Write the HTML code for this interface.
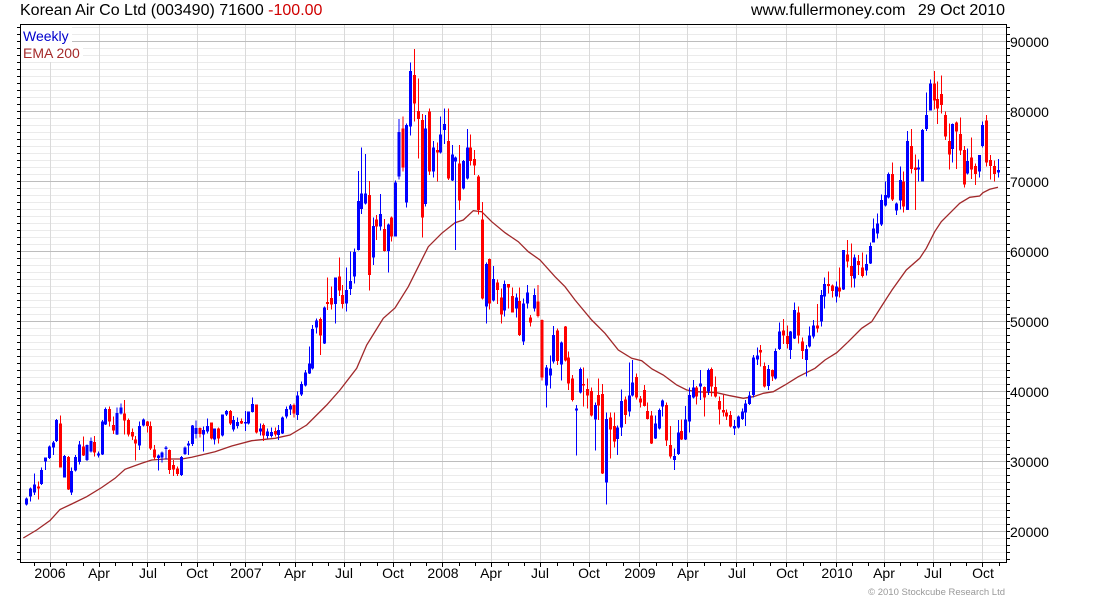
<!DOCTYPE html>
<html><head><meta charset="utf-8"><style>
html,body{margin:0;padding:0;background:#fff;}
svg{display:block;}
text{font-family:"Liberation Sans",Arial,sans-serif;}
</style></head><body>
<svg width="1100" height="600" viewBox="0 0 1100 600" xmlns="http://www.w3.org/2000/svg">
<rect x="0" y="0" width="1100" height="600" fill="#fff"/>
<!-- minor horizontal grid -->
<path shape-rendering="crispEdges" stroke="#ebebeb" stroke-width="1" fill="none" d="M20 27.5H1006M20 34.5H1006M20 48.5H1006M20 55.5H1006M20 62.5H1006M20 69.5H1006M20 76.5H1006M20 83.5H1006M20 90.5H1006M20 97.5H1006M20 104.5H1006M20 118.5H1006M20 125.5H1006M20 132.5H1006M20 139.5H1006M20 146.5H1006M20 153.5H1006M20 160.5H1006M20 167.5H1006M20 174.5H1006M20 188.5H1006M20 195.5H1006M20 202.5H1006M20 209.5H1006M20 216.5H1006M20 223.5H1006M20 230.5H1006M20 237.5H1006M20 244.5H1006M20 258.5H1006M20 265.5H1006M20 272.5H1006M20 279.5H1006M20 286.5H1006M20 293.5H1006M20 300.5H1006M20 307.5H1006M20 314.5H1006M20 328.5H1006M20 335.5H1006M20 342.5H1006M20 349.5H1006M20 356.5H1006M20 363.5H1006M20 370.5H1006M20 377.5H1006M20 384.5H1006M20 398.5H1006M20 405.5H1006M20 412.5H1006M20 419.5H1006M20 426.5H1006M20 433.5H1006M20 440.5H1006M20 447.5H1006M20 454.5H1006M20 468.5H1006M20 475.5H1006M20 482.5H1006M20 489.5H1006M20 496.5H1006M20 503.5H1006M20 510.5H1006M20 517.5H1006M20 524.5H1006M20 538.5H1006M20 545.5H1006M20 552.5H1006M20 559.5H1006"/>
<!-- vertical grid -->
<path shape-rendering="crispEdges" stroke="#dadada" stroke-width="1" fill="none" d="M50.5 24V562M99.5 24V562M147.5 24V562M197.5 24V562M245.5 24V562M295.5 24V562M344.5 24V562M393.5 24V562M442.5 24V562M491.5 24V562M540.5 24V562M589.5 24V562M639.5 24V562M687.5 24V562M736.5 24V562M786.5 24V562M836.5 24V562M884.5 24V562M933.5 24V562M982.5 24V562"/>
<!-- major horizontal grid -->
<path shape-rendering="crispEdges" stroke="#bdbdbd" stroke-width="1" fill="none" d="M20 41.5H1006M20 111.5H1006M20 181.5H1006M20 251.5H1006M20 321.5H1006M20 391.5H1006M20 461.5H1006M20 531.5H1006"/>
<!-- legend background -->
<rect x="21" y="25" width="51" height="20" fill="#fff"/>
<rect x="21" y="45" width="62" height="17" fill="#fff"/>
<text x="23" y="41" font-size="14" fill="#0000cc">Weekly</text>
<text x="23" y="58" font-size="14" fill="#a52a2a">EMA 200</text>
<!-- EMA -->
<polyline fill="none" stroke="#a0282a" stroke-width="1.3" points="23.3,538 36.7,530 50,520.5 60,509.5 71.7,504 86.7,496.7 101.7,487.5 115,478.3 125,469.3 141.7,463.3 151.7,460 165,459 181.7,459 191.7,457.3 215,451.7 231.7,446 251.7,440.7 275,438.3 290,435 306.7,425 326.7,405 340,390 356.7,368.3 366.7,345 383.3,318.3 395,308 408.3,286.7 418.3,266.7 428.3,246.7 441.7,233.3 455,222.7 463.3,220 473.3,210.7 481.7,211.7 491.7,221.7 505,232.7 518.3,241.7 528.3,251.7 540,260 555,276.7 565,286.7 575,300 591.7,320 605,333.3 618.3,350 631.7,358.3 641.7,360.7 652,369 663.3,375 676.7,385 686.7,390 696.7,391.7 716.7,392.7 730,395.7 743.3,398.3 753.3,396.7 763.3,393.3 773.3,391.7 785,385 798.3,376.7 815,368.3 825,360 836.7,352.7 848.3,341.7 861.7,328.3 871.7,321.7 881.7,306 892,290 906.3,270 919.7,258.3 926.3,248.3 934.7,231.7 941.3,221.7 951.3,211.7 959.7,203.3 969.7,197.3 979.7,196 983,192.7 989.7,189.3 998,187.3"/>
<!-- candles -->
<g shape-rendering="crispEdges" fill="none">
<g transform="translate(15 380) scale(0.333333)">
<path stroke="#0000ff" stroke-width="3" d="M35 352V377M46 322V365M58 280V345M79 263V315M91 232V270M103 197V237M115 183V225M124 117V186M148 225V293M169 263V345M181 225V275M193 183V254M216 193V243M228 172V217M250 215V232M262 120V225M271 83V135M306 83V165M318 70V103M373 125V210M385 115V140M430 223V272M441 215V248M453 198V238M499 228V288M510 200V225M520 183V225M532 135V198M543 122V175M566 140V215M578 115V160M599 145V193M623 103V170M634 90V108M656 108V155M668 113V145M691 93V153M700 95V133M712 52V98M736 130V167M757 145V175"/>
<path stroke="#0000ff" stroke-width="9" d="M35 355V373M46 326V350M58 313V338M79 270V312M91 232V245M103 200V234M115 187V203M124 120V183M148 228V293M169 273V338M181 231V272M193 193V246M216 195V240M228 183V214M250 220V226M262 124V224M271 87V133M306 99V163M318 83V100M373 138V197M385 118V136M430 226V234M441 218V232M453 203V207M499 231V285M510 202V222M520 190V197M532 137V192M543 144V162M566 150V164M578 138V155M599 145V178M623 104V167M634 93V104M656 120V148M668 126V138M691 126V131M700 95V130M712 72V96M736 145V155M757 155V168"/>
<path stroke="#ff0000" stroke-width="3" d="M70 305V358M136 107V263M160 228V330M205 170V228M239 168V230M283 80V140M295 110V162M328 60V163M340 116V170M352 145V180M362 168V242M397 123V157M406 125V210M418 195V240M464 208V282M476 240V288M488 260V288M555 143V173M589 128V178M611 143V190M646 90V135M679 115V132M724 73V160M746 130V183"/>
<path stroke="#ff0000" stroke-width="9" d="M70 320V326M136 131V263M160 231V328M205 200V226M239 186V218M283 87V125M295 135V152M328 100V122M340 120V163M352 156V170M362 178V190M397 124V138M406 138V205M418 208V232M464 210V270M476 255V268M488 266V282M555 144V162M589 128V175M611 145V175M646 93V130M679 123V130M724 73V158M746 135V167"/>
</g>
<g transform="translate(270 140) scale(0.333333)">
<path stroke="#0000ff" stroke-width="3" d="M4 862V892M26 855V900M37 830V882M49 800V835M61 792V825M82 755V840M94 725V768M106 690V740M118 620V702M127 555V688M139 535V580M163 500V612M196 412V550M229 383V515M241 335V465M253 325V430M265 93V332M274 23V222M286 42V193M310 232V375M331 162V272M355 250V398M376 122V290"/>
<path stroke="#0000ff" stroke-width="9" d="M4 876V888M26 870V885M37 833V880M49 807V830M61 796V809M82 766V825M94 732V764M106 698V737M118 670V700M127 567V686M139 542V562M163 502V610M196 412V492M229 450V491M241 423V447M253 336V410M265 183V330M274 160V207M286 160V190M310 258V352M331 222V260M355 253V333M376 128V290"/>
<path stroke="#ff0000" stroke-width="3" d="M16 862V890M72 790V832M151 532V645M172 413V510M184 440V508M208 353V468M217 435V505M298 123V452M319 225V300M343 237V335M364 230V305"/>
<path stroke="#ff0000" stroke-width="9" d="M16 873V884M72 795V820M151 537V587M172 486V492M184 474V494M208 410V452M217 465V492M298 165V405M319 238V260M343 267V333M364 233V290"/>
</g>
<g transform="translate(395 40) scale(0.333333)">
<path stroke="#0000ff" stroke-width="3" d="M12 237V418M34 250V503M46 67V287M91 225V500M115 303V413M136 230V340M148 205V312M172 315V423M181 350V630M205 360V448M217 267V418M274 668V850M295 678V785M328 722V830M364 760V832M386 775V915"/>
<path stroke="#0000ff" stroke-width="9" d="M12 276V410M34 255V488M46 93V260M91 265V492M115 322V395M136 283V338M148 252V270M172 343V422M181 352V365M205 363V445M217 323V415M274 672V800M295 717V782M328 732V812M364 773V805M386 790V905"/>
<path stroke="#ff0000" stroke-width="3" d="M24 230V395M58 27V245M70 115V355M82 222V593M103 205V405M127 307V425M160 205V420M193 315V510M226 283V377M238 330V405M250 405V523M262 486V778M284 655V808M307 718V792M319 745V850M340 732V805M352 742V818M374 742V888"/>
<path stroke="#ff0000" stroke-width="9" d="M24 265V383M58 105V190M70 213V237M82 240V533M103 215V395M127 330V338M160 303V415M193 370V482M226 323V363M238 357V377M250 410V510M262 538V775M284 657V790M307 727V750M319 773V823M340 732V743M352 768V818M374 783V885"/>
</g>
<g transform="translate(525 260) scale(0.333333)">
<path stroke="#0000ff" stroke-width="3" d="M7 75V145M28 85V155M64 315V443M76 287V385M85 198V310M109 245V362M154 435V587M166 322V400M211 428V572M244 458V733M277 497V585M289 388V528M313 308V470M322 300V410"/>
<path stroke="#0000ff" stroke-width="9" d="M7 98V130M28 105V145M64 323V377M76 325V347M85 225V305M109 247V313M154 446V452M166 327V398M211 435V478M244 477V668M277 503V537M289 423V503M313 407V455M322 367V407"/>
<path stroke="#ff0000" stroke-width="3" d="M17 165V200M39 75V172M51 178V362M97 205V315M121 198V305M130 275V390M142 345V425M176 322V440M187 355V445M199 383V470M220 355V480M232 372V642M256 458V595M268 458V562M301 410V492M334 340V418M346 408V443M358 375V440M367 428V478"/>
<path stroke="#ff0000" stroke-width="9" d="M17 172V188M39 125V168M51 180V353M97 212V303M121 200V302M130 292V370M142 355V420M176 372V377M187 387V407M199 393V467M220 405V437M232 402V640M256 473V508M268 498V545M301 418V465M334 351V412M346 415V428M358 390V438M367 453V477"/>
</g>
<g transform="translate(650 250) scale(0.333333)">
<path stroke="#0000ff" stroke-width="3" d="M16 497V567M28 475V538M37 448V500M73 595V660M85 510V615M106 468V570M118 412V548M130 390V445M151 360V450M175 355V435M253 510V555M265 497V535M277 475V510M286 450V528M298 425V465M310 315V443M322 292V345M355 345V420M376 295V388M388 218V300"/>
<path stroke="#0000ff" stroke-width="9" d="M16 520V565M28 480V535M37 452V470M73 618V630M85 547V612M106 508V568M118 435V515M130 413V443M151 400V410M175 360V425M253 528V535M265 500V533M277 485V507M286 460V487M298 437V462M310 322V435M322 317V328M355 357V408M376 303V385M388 245V297"/>
<path stroke="#ff0000" stroke-width="3" d="M4 483V582M49 458V588M61 528V625M94 508V570M139 408V463M163 410V500M184 352V440M196 380V442M208 440V523M220 435V500M229 478V510M241 483V532M331 285V350M343 337V412M367 358V393M400 207V282"/>
<path stroke="#ff0000" stroke-width="9" d="M4 497V580M49 465V572M61 585V620M94 543V568M139 412V440M163 411V443M184 357V410M196 411V440M208 453V478M220 480V487M229 488V500M241 495V530M331 300V307M343 348V410M367 360V380M400 242V257"/>
</g>
<g transform="translate(785 160) scale(0.333333)">
<path stroke="#0000ff" stroke-width="3" d="M16 513V597M28 428V537M64 555V650M73 500V563M85 480V535M109 390V500M118 352V445M154 365V428M175 270V390M208 283V382M244 283V347M256 248V312M265 175V248M277 160V235M289 103V198M301 65V140M310 38V115"/>
<path stroke="#0000ff" stroke-width="9" d="M16 515V570M28 450V535M64 567V600M73 527V560M85 497V530M109 405V485M118 372V410M154 380V410M175 270V388M208 293V355M244 312V332M256 258V310M265 205V247M277 190V220M289 120V193M301 105V137M310 42V112"/>
<path stroke="#ff0000" stroke-width="3" d="M7 497V565M40 440V550M52 532V597M97 432V518M130 335V400M142 373V413M164 322V413M187 240V323M199 250V382M220 285V345M232 278V352M322 7V123"/>
<path stroke="#ff0000" stroke-width="9" d="M7 528V552M40 457V527M52 545V573M97 497V505M130 372V378M142 377V393M164 383V395M187 283V305M199 318V348M220 303V315M232 322V348M322 42V118"/>
</g>
<g transform="translate(893 60) scale(0.333333)">
<path stroke="#0000ff" stroke-width="3" d="M10 428V465M22 320V448M43 213V450M76 298V365M88 207V365M100 98V213M112 58V152M178 190V307M223 265V343M259 285V353M268 185V262M316 297V352"/>
<path stroke="#0000ff" stroke-width="9" d="M10 430V452M22 360V422M43 243V450M76 323V328M88 210V365M100 165V207M112 70V152M178 192V267M223 303V340M259 285V335M268 195V258M316 330V338"/>
<path stroke="#ff0000" stroke-width="3" d="M31 335V458M55 207V340M67 283V450M124 33V148M133 65V192M145 47V160M157 155V240M169 190V328M190 185V327M202 172V285M214 258V383M235 233V357M247 310V375M280 165V320M292 285V358M304 302V365"/>
<path stroke="#ff0000" stroke-width="9" d="M31 365V440M55 258V327M67 323V330M124 70V122M133 117V145M145 102V135M157 165V230M169 243V283M190 187V215M202 222V272M214 270V373M235 292V328M247 318V342M280 182V308M292 300V318M304 318V342"/>
</g>
</g>
<!-- frame -->
<rect x="20.5" y="24.5" width="986" height="538" fill="none" stroke="#000" stroke-width="1" shape-rendering="crispEdges"/>
<!-- y ticks -->
<path shape-rendering="crispEdges" stroke="#000" stroke-width="1" fill="none" d="M17 27.5h3M17 34.5h3M17 41.5h3M17 48.5h3M17 55.5h3M17 62.5h3M17 69.5h3M17 76.5h3M17 83.5h3M17 90.5h3M17 97.5h3M17 104.5h3M17 111.5h3M17 118.5h3M17 125.5h3M17 132.5h3M17 139.5h3M17 146.5h3M17 153.5h3M17 160.5h3M17 167.5h3M17 174.5h3M17 181.5h3M17 188.5h3M17 195.5h3M17 202.5h3M17 209.5h3M17 216.5h3M17 223.5h3M17 230.5h3M17 237.5h3M17 244.5h3M17 251.5h3M17 258.5h3M17 265.5h3M17 272.5h3M17 279.5h3M17 286.5h3M17 293.5h3M17 300.5h3M17 307.5h3M17 314.5h3M17 321.5h3M17 328.5h3M17 335.5h3M17 342.5h3M17 349.5h3M17 356.5h3M17 363.5h3M17 370.5h3M17 377.5h3M17 384.5h3M17 391.5h3M17 398.5h3M17 405.5h3M17 412.5h3M17 419.5h3M17 426.5h3M17 433.5h3M17 440.5h3M17 447.5h3M17 454.5h3M17 461.5h3M17 468.5h3M17 475.5h3M17 482.5h3M17 489.5h3M17 496.5h3M17 503.5h3M17 510.5h3M17 517.5h3M17 524.5h3M17 531.5h3M17 538.5h3M17 545.5h3M17 552.5h3M17 559.5h3
M1007 27.5h3M1007 34.5h3M1007 41.5h3M1007 48.5h3M1007 55.5h3M1007 62.5h3M1007 69.5h3M1007 76.5h3M1007 83.5h3M1007 90.5h3M1007 97.5h3M1007 104.5h3M1007 111.5h3M1007 118.5h3M1007 125.5h3M1007 132.5h3M1007 139.5h3M1007 146.5h3M1007 153.5h3M1007 160.5h3M1007 167.5h3M1007 174.5h3M1007 181.5h3M1007 188.5h3M1007 195.5h3M1007 202.5h3M1007 209.5h3M1007 216.5h3M1007 223.5h3M1007 230.5h3M1007 237.5h3M1007 244.5h3M1007 251.5h3M1007 258.5h3M1007 265.5h3M1007 272.5h3M1007 279.5h3M1007 286.5h3M1007 293.5h3M1007 300.5h3M1007 307.5h3M1007 314.5h3M1007 321.5h3M1007 328.5h3M1007 335.5h3M1007 342.5h3M1007 349.5h3M1007 356.5h3M1007 363.5h3M1007 370.5h3M1007 377.5h3M1007 384.5h3M1007 391.5h3M1007 398.5h3M1007 405.5h3M1007 412.5h3M1007 419.5h3M1007 426.5h3M1007 433.5h3M1007 440.5h3M1007 447.5h3M1007 454.5h3M1007 461.5h3M1007 468.5h3M1007 475.5h3M1007 482.5h3M1007 489.5h3M1007 496.5h3M1007 503.5h3M1007 510.5h3M1007 517.5h3M1007 524.5h3M1007 531.5h3M1007 538.5h3M1007 545.5h3M1007 552.5h3M1007 559.5h3"/>
<!-- x ticks -->
<path shape-rendering="crispEdges" stroke="#000" stroke-width="1" fill="none" d="M34.5 563v3M50.5 563v4M66.5 563v3M83.5 563v3M99.5 563v4M115.5 563v3M132.5 563v3M147.5 563v4M164.5 563v3M181.5 563v3M197.5 563v4M213.5 563v3M230.5 563v3M245.5 563v4M262.5 563v3M279.5 563v3M295.5 563v4M312.5 563v3M328.5 563v3M344.5 563v4M360.5 563v3M377.5 563v3M393.5 563v4M410.5 563v3M426.5 563v3M442.5 563v4M459.5 563v3M475.5 563v3M491.5 563v4M508.5 563v3M524.5 563v3M540.5 563v4M557.5 563v3M573.5 563v3M589.5 563v4M606.5 563v3M623.5 563v3M639.5 563v4M656.5 563v3M672.5 563v3M687.5 563v4M704.5 563v3M720.5 563v3M736.5 563v4M753.5 563v3M770.5 563v3M786.5 563v4M803.5 563v3M820.5 563v3M836.5 563v4M852.5 563v3M868.5 563v3M884.5 563v4M900.5 563v3M917.5 563v3M933.5 563v4M950.5 563v3M966.5 563v3M982.5 563v4M999.5 563v3"/>
<!-- y labels -->
<g font-size="14" fill="#000">
<text x="1010" y="47">90000</text>
<text x="1010" y="117">80000</text>
<text x="1010" y="187">70000</text>
<text x="1010" y="257">60000</text>
<text x="1010" y="327">50000</text>
<text x="1010" y="397">40000</text>
<text x="1010" y="467">30000</text>
<text x="1010" y="537">20000</text>
</g>
<!-- x labels -->
<g font-size="14" fill="#000" text-anchor="middle">
<text x="50" y="578">2006</text>
<text x="99" y="578">Apr</text>
<text x="148" y="578">Jul</text>
<text x="197" y="578">Oct</text>
<text x="246" y="578">2007</text>
<text x="295" y="578">Apr</text>
<text x="344" y="578">Jul</text>
<text x="393" y="578">Oct</text>
<text x="443" y="578">2008</text>
<text x="491" y="578">Apr</text>
<text x="540" y="578">Jul</text>
<text x="589" y="578">Oct</text>
<text x="640" y="578">2009</text>
<text x="688" y="578">Apr</text>
<text x="737" y="578">Jul</text>
<text x="787" y="578">Oct</text>
<text x="837" y="578">2010</text>
<text x="884" y="578">Apr</text>
<text x="933" y="578">Jul</text>
<text x="983" y="578">Oct</text>
</g>
<!-- title -->
<text x="20" y="15" font-size="16" fill="#000">Korean Air Co Ltd (003490) 71600 <tspan fill="#d00000">-100.00</tspan></text>
<text x="751" y="15" font-size="16" fill="#000">www.fullermoney.com</text>
<text x="1005" y="15" font-size="16" fill="#000" text-anchor="end">29 Oct 2010</text>
<text x="1005" y="595" font-size="9.5" fill="#999" text-anchor="end">© 2010 Stockcube Research Ltd</text>
</svg>
</body></html>
